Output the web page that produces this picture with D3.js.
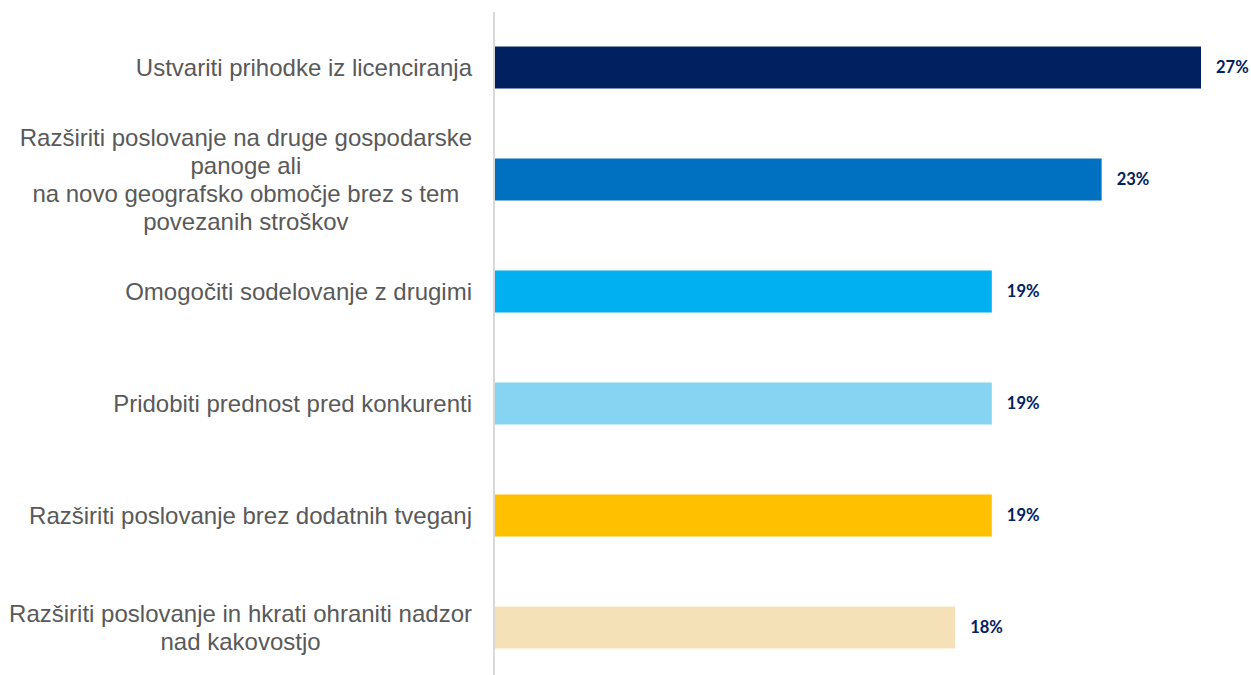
<!DOCTYPE html>
<html>
<head>
<meta charset="utf-8">
<script src="https://d3js.org/d3.v7.min.js"></script>
<style>
  body { margin: 0; background: #fff; }
</style>
</head>
<body>
<div id="chart"></div>
<script>
var width = 1251, height = 675;

// category labels, lines split as in the original
var categories = [
  ["Ustvariti prihodke iz licenciranja"],
  ["Razširiti poslovanje na druge gospodarske", "panoge ali", "na novo geografsko območje brez s tem", "povezanih stroškov"],
  ["Omogočiti sodelovanje z drugimi"],
  ["Pridobiti prednost pred konkurenti"],
  ["Razširiti poslovanje brez dodatnih tveganj"],
  ["Razširiti poslovanje in hkrati ohraniti nadzor", "nad kakovostjo"]
];
var values = [27, 23.2, 19, 19, 19, 17.6];
var valueLabels = ["27%", "23%", "19%", "19%", "19%", "18%"];
var colors = ["#002060", "#0070C0", "#00B0F0", "#87D3F2", "#FFC000", "#F5E1B7"];

var svg = d3.select("#chart")
  .append("svg")
  .attr("width", width)
  .attr("height", height);

var x = d3.scaleLinear()
  .domain([0, 27])
  .range([495, 1201]);

var y = d3.scaleBand()
  .domain(d3.range(categories.length))
  .range([11.5, 683.5])
  .paddingInner(0.625)
  .paddingOuter(0.3125);

// bars
svg.selectAll("rect.bar")
  .data(values)
  .enter().append("rect")
  .attr("class", "bar")
  .attr("x", x(0))
  .attr("y", (d, i) => y(i))
  .attr("width", d => x(d) - x(0))
  .attr("height", y.bandwidth())
  .attr("fill", (d, i) => colors[i]);

// axis line
svg.append("line")
  .attr("x1", 494).attr("x2", 494)
  .attr("y1", 12).attr("y2", height)
  .attr("stroke", "#d9d9d9")
  .attr("stroke-width", 2);

// value labels
svg.selectAll("text.val")
  .data(values)
  .enter().append("text")
  .attr("class", "val")
  .attr("x", d => x(d) + 15)
  .attr("y", (d, i) => y(i) + y.bandwidth() / 2)
  .attr("dy", "0.35em")
  .attr("font-family", "Lato, 'Open Sans', sans-serif")
  .attr("font-weight", "bold")
  .attr("font-size", 16.5)
  .attr("fill", "#002060")
  .text((d, i) => valueLabels[i]);

// category labels: lines centred on the widest line, block right edge at 472
var lineH = 28;
categories.forEach(function(lines, i) {
  var g = svg.append("text")
    .attr("font-family", "'Liberation Sans', Arial, sans-serif")
    .attr("font-size", 24)
    .attr("fill", "#595959")
    .attr("text-anchor", "middle");
  var cy = y(i) + y.bandwidth() / 2;
  var top = cy - (lines.length - 1) * lineH / 2;
  var spans = lines.map(function(l, j) {
    return g.append("tspan")
      .attr("y", top + j * lineH)
      .attr("dy", "0.35em")
      .text(l);
  });
  var maxW = d3.max(spans, s => s.node().getComputedTextLength());
  spans.forEach(s => s.attr("x", 472 - maxW / 2));
});
</script>
</body>
</html>
